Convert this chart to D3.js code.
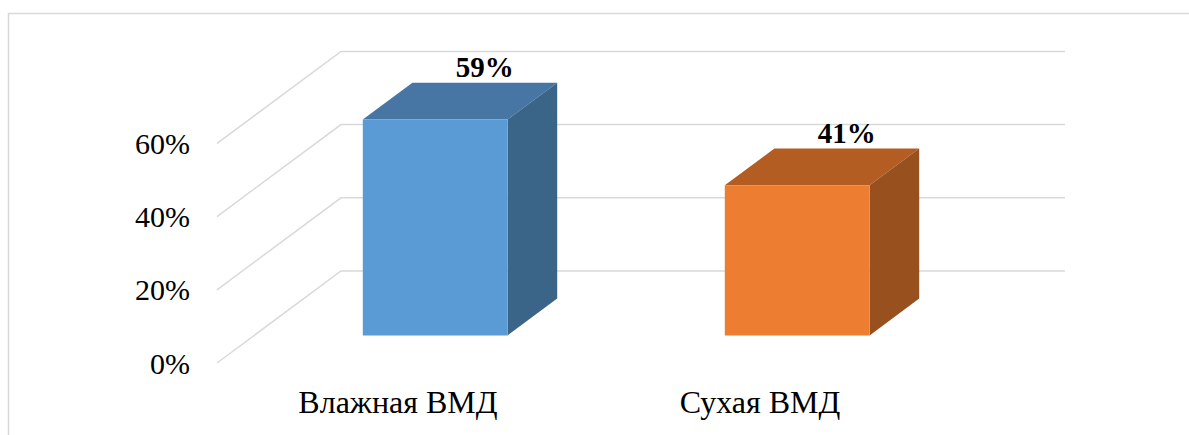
<!DOCTYPE html>
<html>
<head>
<meta charset="utf-8">
<script src="https://cdn.jsdelivr.net/npm/d3@7"></script>
<style>
  body { margin: 0; background: #fff; }
  svg { display: block; }
  text { font-family: "Liberation Serif", "Times New Roman", serif; fill: #000; }
</style>
</head>
<body>
<svg id="chart" width="1189" height="435"></svg>
<script>
var categories = ['Влажная ВМД', 'Сухая ВМД'];
var values = [0.59, 0.41];
var tickValues = [0, 0.2, 0.4, 0.6];
var tickLabels = ['0%', '20%', '40%', '60%'];
var valueLabels = ['59%', '41%'];

var front = ['#5b9bd5', '#ed7d31'];
var top_ = ['#4776a4', '#b45d23'];
var side = ['#3a6488', '#98501e'];

var svg = d3.select('#chart');

// outer border
svg.append('rect')
  .attr('x', 8.5).attr('y', 13.5)
  .attr('width', 1200).attr('height', 450)
  .attr('fill', 'none').attr('stroke', '#d9d9d9').attr('stroke-width', 1.5);

// front plane scales, depth is added with an oblique shift
var x = d3.scaleBand().domain(categories).range([217, 941]);
var y = d3.scaleLinear().domain([0, 1]).range([363, -3]);
var depthX = 124, depthY = -92;

function proj (px, v, z) {
  return [px + z * depthX, y(v) + z * depthY];
}

// gridlines: side wall diagonal then back wall
var grid = svg.append('g');
tickValues.forEach(t => {
  var a = proj(x.range()[0], t, 0);
  var b = proj(x.range()[0], t, 1);
  var c = proj(x.range()[1], t, 1);
  grid.append('polyline')
    .attr('points', [a, b, c].map(p => p.join(',')).join(' '))
    .attr('fill', 'none')
    .attr('stroke', '#d9d9d9')
    .attr('stroke-width', 1.5);
});

// tick labels
svg.append('g').selectAll('text')
  .data(tickValues)
  .enter().append('text')
    .attr('x', x.range()[0] - 27)
    .attr('y', d => y(d))
    .attr('dy', '0.35em')
    .attr('text-anchor', 'end')
    .attr('font-size', 30)
    .text((d, i) => tickLabels[i]);

// bars
var z0 = 0.3, z1 = 0.7;
var bw = x.bandwidth() * 0.4;
var bars = svg.append('g');

function poly (pts, color) {
  bars.append('polygon')
    .attr('points', pts.map(p => p.join(',')).join(' '))
    .attr('fill', color);
}

categories.forEach((c, i) => {
  var cx = x(c) + x.bandwidth() / 2;
  var l = cx - bw / 2, r = cx + bw / 2, v = values[i];
  poly([proj(l, v, z0), proj(r, v, z0), proj(r, v, z1), proj(l, v, z1)], top_[i]);
  poly([proj(r, 0, z0), proj(r, v, z0), proj(r, v, z1), proj(r, 0, z1)], side[i]);
  poly([proj(l, 0, z0), proj(r, 0, z0), proj(r, v, z0), proj(l, v, z0)], front[i]);

  var lp = proj(cx, v, z1);
  svg.append('text')
    .attr('x', lp[0])
    .attr('y', lp[1] - 6)
    .attr('text-anchor', 'middle')
    .attr('font-size', 29)
    .attr('font-weight', 'bold')
    .text(valueLabels[i]);
});

// category labels
svg.append('g').selectAll('text')
  .data(categories)
  .enter().append('text')
    .attr('x', d => x(d) + x.bandwidth() / 2)
    .attr('y', 413)
    .attr('text-anchor', 'middle')
    .attr('font-size', 32)
    .text(d => d);
</script>
</body>
</html>
